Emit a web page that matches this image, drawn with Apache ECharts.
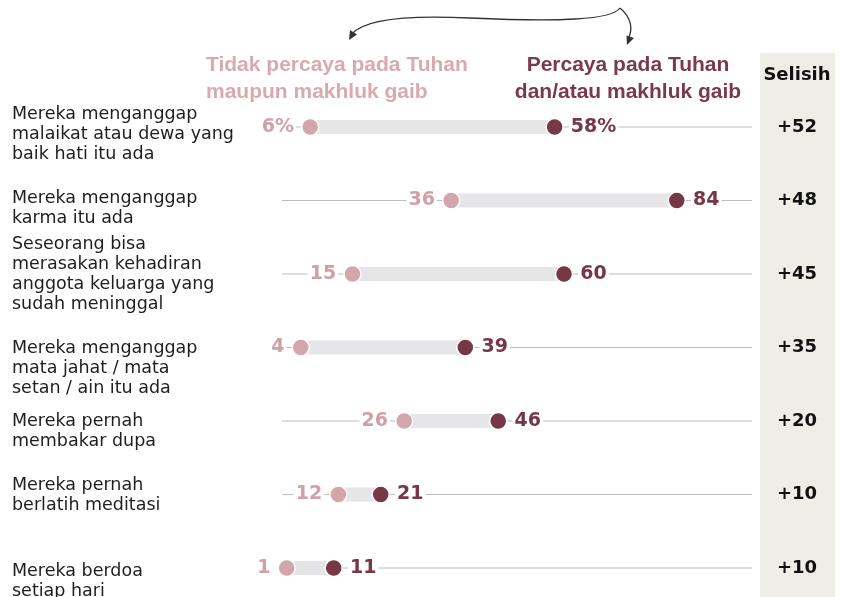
<!DOCTYPE html>
<html>
<head>
<meta charset="utf-8">
<script src="https://cdn.jsdelivr.net/npm/echarts@6/dist/echarts.min.js"></script>
<style>
  html, body { margin: 0; padding: 0; background: #fff; }
  #chart { width: 843px; height: 597px; }
</style>
</head>
<body>
<div id="chart"></div>
<script>
// data
var categories = [
    "Mereka menganggap\nmalaikat atau dewa yang\nbaik hati itu ada",
    "Mereka menganggap\nkarma itu ada",
    "Seseorang bisa\nmerasakan kehadiran\nanggota keluarga yang\nsudah meninggal",
    "Mereka menganggap\nmata jahat / mata\nsetan / ain itu ada",
    "Mereka pernah\nmembakar dupa",
    "Mereka pernah\nberlatih meditasi",
    "Mereka berdoa\nsetiap hari"
];
var noBelief = [6, 36, 15, 4, 26, 12, 1];
var belief = [58, 84, 60, 39, 46, 21, 11];
var gapLabels = ["+52", "+48", "+45", "+35", "+20", "+10", "+10"];

// vertical nudge of each row label (top of text block vs row centre)
var labelTop = [-23, -12, -40, -9, -10, -19, -7];

var LIGHT = "#d4a6ab";
var DARK = "#763847";
var numFont = 'bold 18px "DejaVu Sans"';
var arrowStyle = { stroke: "#333", fill: "none", lineWidth: 1.3 };

var chart = echarts.init(document.getElementById("chart"));

var rows = categories.map(function (c, i) { return [noBelief[i], belief[i], i]; });

var option = {
    animation: false,
    grid: { left: 282, right: 91, top: 127, bottom: 29 },
    xAxis: { type: "value", min: 0, max: 100, show: false },
    yAxis: { type: "category", data: categories, inverse: true, boundaryGap: false, show: false },
    graphic: [
        { type: "rect", z: -10, shape: { x: 760, y: 53, width: 75, height: 544 }, style: { fill: "#efeee6" } },
        { type: "text", style: { text: "Selisih", x: 797, y: 75, font: numFont, fill: "#111",
            textAlign: "center", textVerticalAlign: "middle" } },
        { type: "text", style: { text: "Tidak percaya pada Tuhan\nmaupun makhluk gaib", x: 206, y: 52,
            font: 'bold 21px "Liberation Sans"', lineHeight: 27, fill: "#d9a9b0",
            textAlign: "left", textVerticalAlign: "top" } },
        { type: "text", style: { text: "Percaya pada Tuhan\ndan/atau makhluk gaib", x: 628, y: 52,
            font: 'bold 21px "Liberation Sans"', lineHeight: 27, fill: "#7a3a4b",
            textAlign: "center", textVerticalAlign: "top" } },
        { type: "bezierCurve", shape: { x1: 620, y1: 8, cpx1: 612, cpy1: 20, cpx2: 560, cpy2: 22, x2: 470, y2: 18 },
            style: arrowStyle },
        { type: "bezierCurve", shape: { x1: 470, y1: 18, cpx1: 410, cpy1: 15, cpx2: 365, cpy2: 18, x2: 352, y2: 34 },
            style: arrowStyle },
        { type: "bezierCurve", shape: { x1: 620, y1: 8, cpx1: 632, cpy1: 18, cpx2: 633, cpy2: 30, x2: 628, y2: 39 },
            style: arrowStyle },
        { type: "polygon", shape: { points: [[349, 40], [357, 34.5], [350, 30]] }, style: { fill: "#333" } },
        { type: "polygon", shape: { points: [[627, 45], [634, 38], [626.5, 35.5]] }, style: { fill: "#333" } }
    ],
    series: [
        {
            type: "custom",
            z: 1,
            data: rows,
            encode: { x: [0, 1], y: 2 },
            renderItem: function (params, api) {
                var i = params.dataIndex;
                var start = api.coord([0, i]);
                var end = api.coord([100, i]);
                var lo = api.coord([api.value(0), i]);
                var hi = api.coord([api.value(1), i]);
                return {
                    type: "group",
                    children: [
                        { type: "line", shape: { x1: start[0], y1: start[1], x2: end[0], y2: end[1] },
                            style: { stroke: "#bdbdbd", lineWidth: 1 } },
                        { type: "rect", shape: { x: lo[0], y: lo[1] - 7, width: hi[0] - lo[0], height: 14 },
                            style: { fill: "#e6e6e8" } },
                        { type: "text", style: { text: categories[i], x: 12, y: start[1] + labelTop[i],
                            font: '17.5px "DejaVu Sans"', lineHeight: 20, fill: "#1e1e1e",
                            textAlign: "left", textVerticalAlign: "top" } },
                        { type: "text", style: { text: gapLabels[i], x: 797, y: start[1],
                            font: numFont, fill: "#111", textAlign: "center", textVerticalAlign: "middle" } }
                    ]
                };
            }
        },
        {
            type: "scatter",
            z: 3,
            symbolSize: 17,
            itemStyle: { color: LIGHT, borderColor: "#fff", borderWidth: 1.5, opacity: 1 },
            data: noBelief.map(function (v, i) { return [v, i]; }),
            label: {
                show: true, position: "left", distance: 5,
                color: "#d1a0a7", fontFamily: "DejaVu Sans", fontWeight: "bold", fontSize: 19,
                backgroundColor: "#fff", padding: [1, 2],
                formatter: function (p) { return p.dataIndex === 0 ? p.value[0] + "%" : p.value[0]; }
            }
        },
        {
            type: "scatter",
            z: 3,
            symbolSize: 17,
            itemStyle: { color: DARK, borderColor: "#fff", borderWidth: 1.5, opacity: 1 },
            data: belief.map(function (v, i) { return [v, i]; }),
            label: {
                show: true, position: "right", distance: 5,
                color: DARK, fontFamily: "DejaVu Sans", fontWeight: "bold", fontSize: 19,
                backgroundColor: "#fff", padding: [1, 2],
                formatter: function (p) { return p.dataIndex === 0 ? p.value[0] + "%" : p.value[0]; }
            }
        }
    ]
};

chart.setOption(option);
</script>
</body>
</html>
